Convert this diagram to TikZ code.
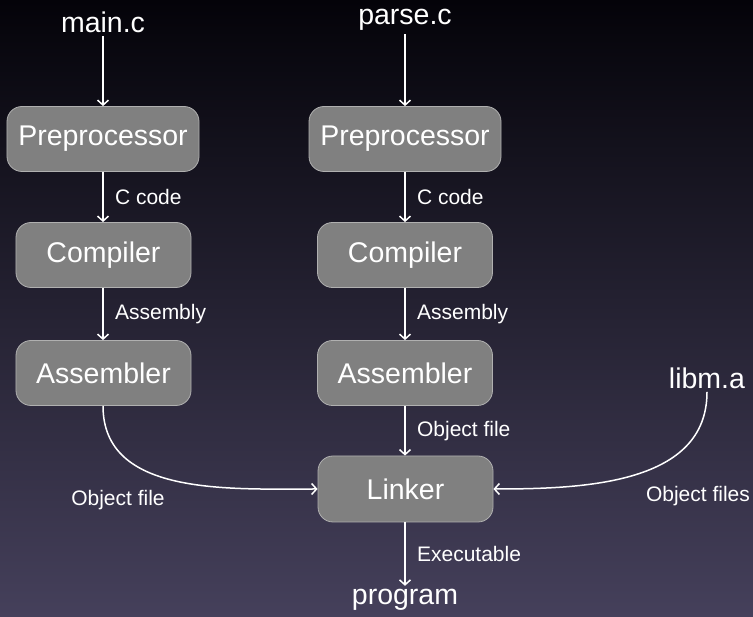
\documentclass[tikz,border=0pt]{standalone}
\usepackage{fontspec}
\setmainfont{Liberation Sans}
\usetikzlibrary{arrows.meta}
\definecolor{bgtop}{HTML}{040309}
\definecolor{bgbot}{HTML}{45405B}
\definecolor{boxfill}{HTML}{808080}
\definecolor{boxline}{HTML}{B0B0B0}
\tikzset{
  big/.style={text=white,font=\fontsize{28.5bp}{34bp}\selectfont},
  small/.style={text=white,font=\fontsize{21bp}{25bp}\selectfont},
  stage/.style={big,draw=boxline,line width=0.8bp,fill=boxfill,rounded corners=15bp,minimum height=65bp,minimum width=175bp,inner sep=0pt},
  flow/.style={draw=white,line width=1.5bp,-{Straight Barb[length=5bp,width=11bp]}},
  lab/.style={small,right=8bp,midway}
}
\begin{document}
\begin{tikzpicture}[x=1bp,y=1bp]
\shade[top color=bgtop,bottom color=bgbot] (0,0) rectangle (753,617);
\useasboundingbox (0,0) rectangle (753,617);
\node[big] (mainc) at (103,595) {main.c};
\node[big] (parsec) at (405,597) {parse.c};
\node[stage,minimum width=192bp] (pre1) at (103,478) {Preprocessor};
\node[stage,minimum width=192bp] (pre2) at (405,478) {Preprocessor};
\node[stage] (comp1) at (103.5,362) {Compiler};
\node[stage] (comp2) at (405,362) {Compiler};
\node[stage] (asm1) at (103.5,244) {Assembler};
\node[stage] (asm2) at (405,244) {Assembler};
\node[stage,minimum height=66bp] (linker) at (405.5,128) {Linker};
\node[big] (program) at (405,17) {program};
\node[big] (libm) at (707,239) {libm.a};
\draw[flow] (mainc) -- (mainc|-pre1.north);
\draw[flow] (parsec) -- (parsec|-pre2.north);
\draw[flow] (pre1.south-|mainc) -- node[lab] {C code} (comp1.north-|mainc);
\draw[flow] (pre2.south) -- node[lab] {C code} (comp2.north);
\draw[flow] (comp1.south-|mainc) -- node[lab] {Assembly} (asm1.north-|mainc);
\draw[flow] (comp2.south) -- node[lab] {Assembly} (asm2.north);
\draw[flow] (asm2.south) -- node[lab] {Object file} (linker.north-|asm2);
\draw[flow] (linker.south-|asm2) -- node[lab] {Executable} (program);
\draw[flow] (asm1.south-|mainc) to[out=-90,in=180] (linker.west);
\draw[flow] (libm.south) to[out=-90,in=0] (linker.east);
\node[small] (objl) at (118,117) {Object file};
\node[small] (objr) at (698,121) {Object files};
\end{tikzpicture}
\end{document}
